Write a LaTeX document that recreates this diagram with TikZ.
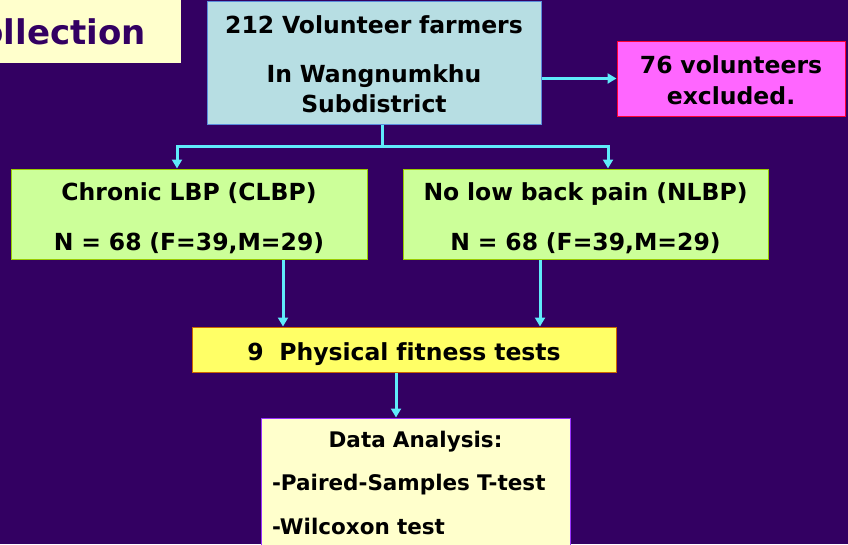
\documentclass[tikz,border=0pt]{standalone}
\usepackage{fontspec}
\setmainfont[Ligatures=NoCommon]{DejaVu Sans}
\usetikzlibrary{arrows.meta}
\definecolor{bgpurple}{RGB}{51,0,98}
\definecolor{titlefill}{RGB}{255,255,204}
\definecolor{bluefill}{RGB}{183,222,227}
\definecolor{blueline}{RGB}{90,140,220}
\definecolor{pinkfill}{RGB}{255,102,255}
\definecolor{pinkline}{RGB}{255,0,51}
\definecolor{greenfill}{RGB}{204,255,153}
\definecolor{greenline}{RGB}{153,204,0}
\definecolor{yellowfill}{RGB}{255,255,102}
\definecolor{yellowline}{RGB}{204,102,0}
\definecolor{creamfill}{RGB}{255,255,204}
\definecolor{creamline}{RGB}{153,51,255}
\definecolor{flowcyan}{RGB}{95,235,250}

\begin{document}
\begin{tikzpicture}[x=1pt,y=-1pt,
  box/.style={draw, line width=1pt, inner sep=0pt, align=center},
  flow/.style={draw=flowcyan, line width=3pt, -{Triangle[width=10pt,length=9pt]}},
  link/.style={draw=flowcyan, line width=3pt}]
\fill[bgpurple] (0,0) rectangle (848,544);
\clip (0,0) rectangle (848,544);

\fill[titlefill] (-20,0) rectangle (181,63);
\node[anchor=base east, inner sep=0pt, text=bgpurple, font=\bfseries\fontsize{34}{40}\selectfont] (title) at (146,44) {ollection};

\node[box, fill=bluefill, draw=blueline, text width=334pt, minimum height=123pt,
  text height=32pt, text depth=91pt, font=\bfseries\fontsize{23.5}{30}\selectfont]
  (farmers) at (374,62.5) {212 Volunteer farmers\\[19pt]In Wangnumkhu\\Subdistrict};
\node[box, fill=pinkfill, draw=pinkline, text width=228pt, minimum height=75pt,
  text height=32pt, text depth=43pt, font=\bfseries\fontsize{23.5}{31}\selectfont]
  (excluded) at (731,78.5) {76 volunteers\\excluded.};

\node[box, fill=greenfill, draw=greenline, text width=356pt, minimum height=90pt,
  text height=31pt, text depth=59pt, font=\bfseries\fontsize{23.5}{50}\selectfont]
  (clbp) at (189,214) {Chronic LBP (CLBP)\\N = 68 (F=39,M=29)};
\node[box, fill=greenfill, draw=greenline, text width=365pt, minimum height=90pt,
  text height=31pt, text depth=59pt, font=\bfseries\fontsize{23.5}{50}\selectfont]
  (nlbp) at (585.5,214) {No low back pain (NLBP)\\N = 68 (F=39,M=29)};

\node[box, fill=yellowfill, draw=yellowline, text width=424pt, minimum height=45pt,
  text height=33pt, text depth=12pt, font=\bfseries\fontsize{23.5}{30}\selectfont]
  (fitness) at (404,349.5) {9\ \ Physical fitness tests};

\node[box, fill=creamfill, draw=creamline, minimum width=309pt, minimum height=142pt,
  text width=287pt, align=left, text height=29pt, text depth=113pt,
  font=\bfseries\fontsize{21.5}{43.5}\selectfont]
  (analysis) at (415.5,489) {\makebox[287pt]{Data Analysis:}\\-Paired-Samples T-test\\-Wilcoxon test};

\coordinate (split) at (382,146);
\coordinate (splitL) at (177,146);
\coordinate (splitR) at (608,146);

\draw[flow] (farmers.east |- excluded.west) -- (excluded.west);
\draw[link] (farmers.south -| split) -- (split);
\draw[link, line cap=rect] (splitL) -- (splitR);
\draw[flow] (splitL) -- (splitL |- clbp.north);
\draw[flow] (splitR) -- (splitR |- nlbp.north);
\draw[flow] ([xshift=94pt]clbp.south) -- ([xshift=94pt]clbp.south |- fitness.north);
\draw[flow] ([xshift=-45.5pt]nlbp.south) -- ([xshift=-45.5pt]nlbp.south |- fitness.north);
\draw[flow] ([xshift=-8pt]fitness.south) -- ([xshift=-8pt]fitness.south |- analysis.north);
\end{tikzpicture}
\end{document}
